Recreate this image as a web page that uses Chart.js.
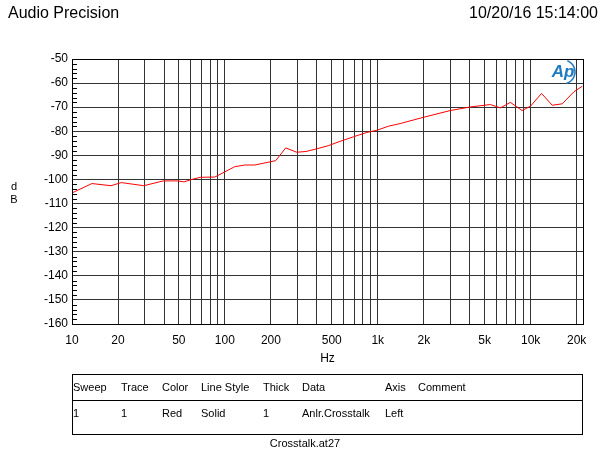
<!DOCTYPE html>
<html>
<head>
<meta charset="utf-8">
<script src="https://cdn.jsdelivr.net/npm/chart.js@4.4.0/dist/chart.umd.min.js"></script>
<style>
  html, body { margin: 0; padding: 0; background: #fff; }
  #wrap { width: 603px; height: 453px; position: relative; }
</style>
</head>
<body>
<div id="wrap"><canvas id="apChart" width="603" height="453"></canvas></div>
<script>
// sweep data
var freqs = [10, 13.5, 18, 21, 29.5, 39.5, 49, 54, 60, 69, 86, 116, 135, 157, 215, 250, 295, 339, 398, 474, 566, 692, 847, 985, 1174, 1400, 1990, 2980, 4030, 5450, 6340, 7370, 8790, 9970, 11780, 13840, 16100, 19190, 21780];
var levels = [-105.6, -101.7, -102.6, -101.3, -102.6, -100.6, -100.6, -101, -100.1, -99.1, -99, -94.7, -94, -94, -92.2, -86.9, -88.7, -88.4, -87.3, -86, -84.2, -82.3, -80.5, -79.6, -77.9, -76.8, -74.2, -71.4, -69.9, -68.9, -70.3, -68, -71.4, -69.6, -64.3, -69.2, -68.6, -63.6, -61.3];

var gridFreqs = [10, 20, 30, 40, 50, 60, 70, 80, 90, 100, 200, 300, 400, 500, 600, 700, 800, 900,
                 1000, 2000, 3000, 4000, 5000, 6000, 7000, 8000, 9000, 10000, 20000];
var labelFreqs = [10, 20, 50, 100, 200, 500, 1000, 2000, 5000, 10000, 20000];
var labelText = ['10', '20', '50', '100', '200', '500', '1k', '2k', '5k', '10k', '20k'];

var tableHead = ['Sweep', 'Trace', 'Color', 'Line Style', 'Thick', 'Data', 'Axis', 'Comment'];
var tableRow = ['1', '1', 'Red', 'Solid', '1', 'Anlr.Crosstalk', 'Left', ''];
var tableCols = [73, 121, 162, 201, 263, 302, 385, 418];

var font = '"Liberation Sans", Arial, sans-serif';

var points = freqs.map(function (f, i) { return {x: f, y: levels[i]}; });

var apDecor = {
    id: 'apDecor',
    afterDraw: function (chart) {
        var ctx = chart.ctx;
        var area = chart.chartArea;
        var yScale = chart.scales.y;
        ctx.save();

        // frame
        ctx.strokeStyle = '#000';
        ctx.lineWidth = 1;
        ctx.strokeRect(Math.round(area.left) + 0.5, Math.round(area.top) + 0.5,
            Math.round(area.right - area.left), Math.round(area.bottom - area.top));

        // minor ticks on the y axis, every 2 dB
        ctx.beginPath();
        for (var v = -158; v < -50; v += 2) {
            if (v % 10 === 0) continue;
            var py = Math.round(yScale.getPixelForValue(v)) + 0.5;
            ctx.moveTo(area.left, py);
            ctx.lineTo(area.left + 5, py);
        }
        ctx.stroke();

        // header texts
        ctx.fillStyle = '#000';
        ctx.font = '16px ' + font;
        ctx.textBaseline = 'middle';
        ctx.textAlign = 'left';
        ctx.fillText('Audio Precision', 8, 14);
        ctx.textAlign = 'right';
        ctx.fillText('10/20/16 15:14:00', 598, 14);

        // y title, stacked letters
        ctx.font = '11px ' + font;
        ctx.textAlign = 'center';
        ctx.fillText('d', 14, 187);
        ctx.fillText('B', 14, 200);

        // Ap logo
        ctx.fillStyle = '#1e7bbf';
        ctx.strokeStyle = '#1e7bbf';
        ctx.font = 'italic bold 17px ' + font;
        ctx.textAlign = 'center';
        ctx.fillText('Ap', 563, 72);
        ctx.lineWidth = 1.5;
        ctx.beginPath();
        ctx.arc(563, 72, 12, -1.2, 1.3);
        ctx.stroke();

        // legend table
        ctx.strokeStyle = '#000';
        ctx.lineWidth = 1;
        ctx.strokeRect(72.5, 374.5, 510, 60);
        ctx.beginPath();
        ctx.moveTo(72, 400.5);
        ctx.lineTo(583, 400.5);
        ctx.stroke();
        ctx.fillStyle = '#000';
        ctx.font = '11px ' + font;
        ctx.textAlign = 'left';
        for (var i = 0; i < tableHead.length; i++) {
            ctx.fillText(tableHead[i], tableCols[i], 388);
            ctx.fillText(tableRow[i], tableCols[i], 414);
        }
        ctx.textAlign = 'center';
        ctx.fillText('Crosstalk.at27', 305, 444);

        ctx.restore();
    }
};

new Chart(document.getElementById('apChart'), {
    type: 'line',
    data: {
        datasets: [{
            data: points,
            borderColor: '#ff0000',
            borderWidth: 1,
            pointRadius: 0,
            tension: 0,
            fill: false
        }]
    },
    options: {
        responsive: false,
        animation: false,
        devicePixelRatio: 1,
        layout: {padding: {top: 59, right: 20, bottom: 87, left: 0}},
        plugins: {legend: {display: false}, tooltip: {enabled: false}},
        scales: {
            x: {
                type: 'logarithmic',
                min: 10,
                max: 22000,
                afterBuildTicks: function (scale) {
                    scale.ticks = gridFreqs.map(function (f) { return {value: f}; });
                },
                afterFit: function (scale) { scale.height = 42; },
                grid: {color: '#333', lineWidth: 1, drawTicks: false},
                border: {display: false},
                ticks: {
                    autoSkip: false,
                    maxRotation: 0,
                    padding: 9,
                    color: '#000',
                    font: {family: font, size: 12},
                    callback: function (value) {
                        var k = labelFreqs.indexOf(value);
                        return k >= 0 ? labelText[k] : '';
                    }
                },
                title: {
                    display: true,
                    text: 'Hz',
                    color: '#000',
                    font: {family: font, size: 12},
                    padding: {top: 0, bottom: 0}
                }
            },
            y: {
                type: 'linear',
                min: -160,
                max: -50,
                afterFit: function (scale) { scale.width = 72; },
                grid: {color: '#333', lineWidth: 1, drawTicks: false},
                border: {display: false},
                ticks: {
                    stepSize: 10,
                    padding: 4,
                    color: '#000',
                    font: {family: font, size: 12}
                }
            }
        }
    },
    plugins: [apDecor]
});
</script>
</body>
</html>
